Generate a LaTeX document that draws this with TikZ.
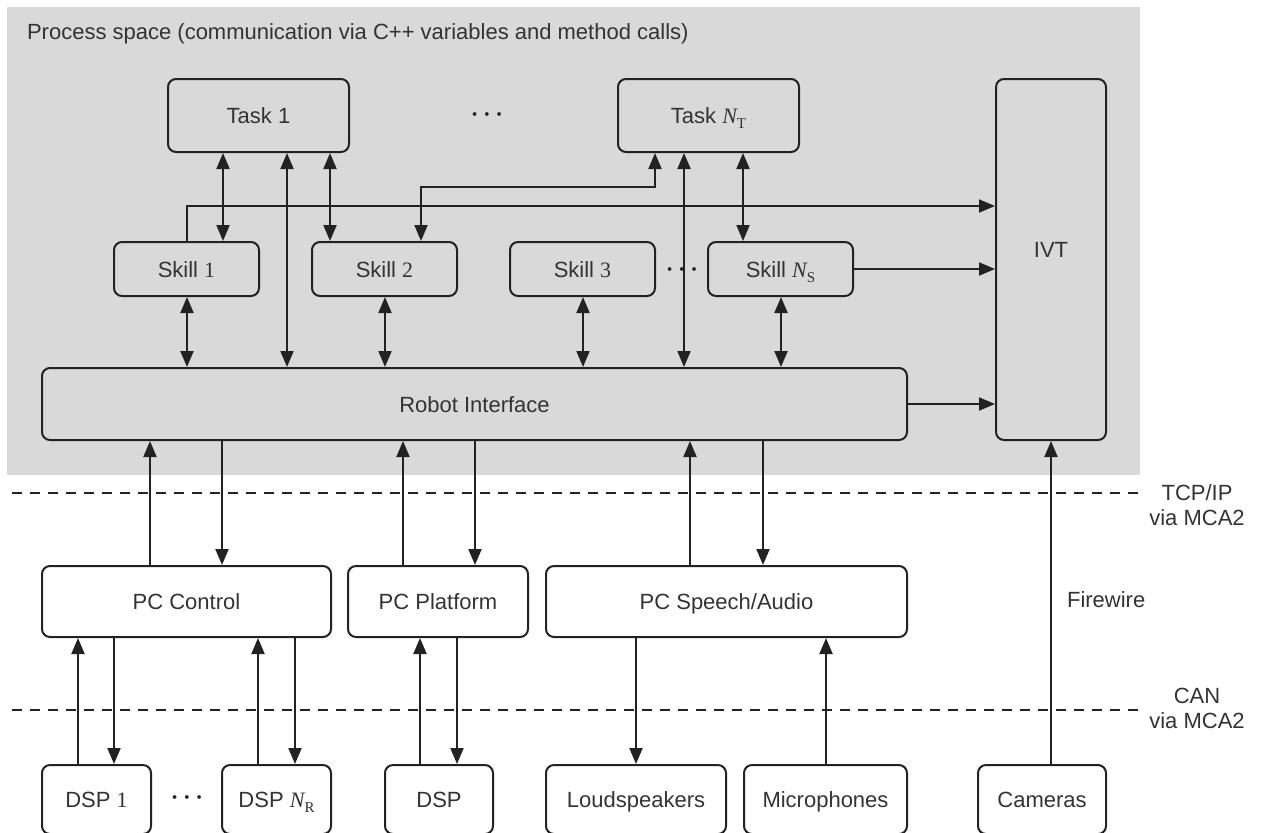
\documentclass[tikz,border=0pt]{standalone}
\usepackage{fontspec}
\usepackage{bm}
\setmainfont{Liberation Sans}
\newfontfamily\tms{Liberation Serif}
\usetikzlibrary{arrows.meta}
\definecolor{bgcol}{HTML}{D9D9D9}
\definecolor{ink}{HTML}{222222}
\definecolor{txt}{HTML}{333333}
\newcommand\NN[1]{{\tms\itshape N}\raisebox{-0.45ex}[0pt][0pt]{\tms\fontsize{7.5}{8}\selectfont #1}}
\newcommand\sn[1]{{\tms #1}}
\begin{document}
\begin{tikzpicture}[x=0.5pt,y=-0.5pt,
  every node/.style={font=\fontsize{11}{12.5}\selectfont, text=txt},
  bx/.style n args={2}{draw=ink, line width=1pt, rounded corners=4pt, inner sep=0pt,
     minimum width=#1, minimum height=#2, text height=8pt, text depth=0pt},
  dots/.style={font=\fontsize{12}{12}\selectfont, inner sep=0pt, text=ink},
  conn/.style={line width=1pt, draw=ink},
  arr/.style={conn,-{Triangle[length=8pt,width=6.5pt]}},
  dbl/.style={conn,{Triangle[length=8pt,width=6.5pt]}-{Triangle[length=8pt,width=6.5pt]}},
  sep/.style={line width=1pt, draw=ink, dash pattern=on 5pt off 4pt}]

\useasboundingbox (0,0) rectangle (1273,832);
\fill[bgcol] (7,7) rectangle (1140,475);
\node[anchor=west] (title) at (20,34) {Process space (communication via C++ variables and method calls)};

% top layer
\node[bx={90.5pt}{36.5pt}] (task1) at (258.5,115.5) {Task 1};
\node[bx={90.5pt}{36.5pt}] (taskN) at (708.5,115.5) {Task \NN{T}};
\node[dots] (dots1) at (487,115) {$\bm{\cdots}$};

\node[bx={72.5pt}{27pt}] (skill1) at (186.5,269) {Skill \sn{1}};
\node[bx={72.5pt}{27pt}] (skill2) at (384.5,269) {Skill \sn{2}};
\node[bx={72.5pt}{27pt}] (skill3) at (582.5,269) {Skill \sn{3}};
\node[bx={72.5pt}{27pt}] (skillN) at (780.5,269) {Skill \NN{S}};
\node[dots] (dots2) at (682,270) {$\bm{\cdots}$};

\node[bx={55pt}{180.5pt}] (ivt) at (1051,259.5) {};
\node (ivtlab) at (1051,250) {IVT};
\node[bx={432.5pt}{36pt}] (ri) at (474.5,404) {Robot Interface};

% PC layer
\node[bx={144.5pt}{35.5pt}] (pcc) at (186.5,601.5) {PC Control};
\node[bx={90pt}{35.5pt}] (pcp) at (438,601.5) {PC Platform};
\node[bx={180.5pt}{35.5pt}] (pcs) at (726.5,601.5) {PC Speech/Audio};

% device layer
\node[bx={54.5pt}{34.5pt}] (dsp1) at (96.5,799.5) {DSP \sn{1}};
\node[dots] (dots3) at (187,798) {$\bm{\cdots}$};
\node[bx={54.5pt}{34.5pt}] (dspn) at (276.5,799.5) {DSP \NN{R}};
\node[bx={54pt}{34.5pt}] (dsp) at (439,799.5) {DSP};
\node[bx={90pt}{34.5pt}] (ls) at (636,799.5) {Loudspeakers};
\node[bx={81.5pt}{34.5pt}] (mic) at (825.5,799.5) {Microphones};
\node[bx={64pt}{34.5pt}] (cam) at (1042,799.5) {Cameras};

% separators
\draw[sep] (12,493) -- (1140,493);
\draw[sep] (12,710) -- (1140,710);
\node[align=center] (tcp) at (1197,505) {TCP/IP\\via MCA2};
\node[align=center] (can) at (1197,708) {CAN\\via MCA2};
\node[anchor=west] (fw) at (1060,600) {Firewire};

% task/skill connectors
\draw[dbl] (task1.south -| 223,0) -- (skill1.north -| 223,0);
\draw[dbl] (task1.south -| 330,0) -- (skill2.north -| 330,0);
\draw[dbl] (task1.south -| 287,0) -- (ri.north -| 287,0);
\draw[dbl] (taskN.south -| 684,0) -- (ri.north -| 684,0);
\draw[dbl] (taskN.south -| 743,0) -- (skillN.north -| 743,0);
\draw[dbl] (skill1.south -| 187,0) -- (ri.north -| 187,0);
\draw[dbl] (skill2.south -| 385,0) -- (ri.north -| 385,0);
\draw[dbl] (skill3.south -| 583,0) -- (ri.north -| 583,0);
\draw[dbl] (skillN.south -| 781,0) -- (ri.north -| 781,0);
\draw[arr] (skill1.north -| 187,0) |- (ivt.west |- 0,206);
\draw[dbl] (skill2.north -| 421,0) -- (421,187) -- (655,187) -- (taskN.south -| 655,0);
\draw[arr] (skillN.east) -- (ivt.west |- skillN.east);
\draw[arr] (ri.east) -- (ivt.west |- ri.east);
\draw[arr] (cam.north -| ivt.south) -- (ivt.south);

% PC connectors
\draw[arr] (pcc.north -| 150,0) -- (ri.south -| 150,0);
\draw[arr] (ri.south -| 222,0) -- (pcc.north -| 222,0);
\draw[arr] (pcp.north -| 403,0) -- (ri.south -| 403,0);
\draw[arr] (ri.south -| 475,0) -- (pcp.north -| 475,0);
\draw[arr] (pcs.north -| 690,0) -- (ri.south -| 690,0);
\draw[arr] (ri.south -| 763,0) -- (pcs.north -| 763,0);

% device connectors
\draw[arr] (dsp1.north -| 78,0) -- (pcc.south -| 78,0);
\draw[arr] (pcc.south -| 114,0) -- (dsp1.north -| 114,0);
\draw[arr] (dspn.north -| 258,0) -- (pcc.south -| 258,0);
\draw[arr] (pcc.south -| 295,0) -- (dspn.north -| 295,0);
\draw[arr] (dsp.north -| 420,0) -- (pcp.south -| 420,0);
\draw[arr] (pcp.south -| 457,0) -- (dsp.north -| 457,0);
\draw[arr] (pcs.south -| 636,0) -- (ls.north -| 636,0);
\draw[arr] (mic.north -| 826,0) -- (pcs.south -| 826,0);
\end{tikzpicture}
\end{document}
